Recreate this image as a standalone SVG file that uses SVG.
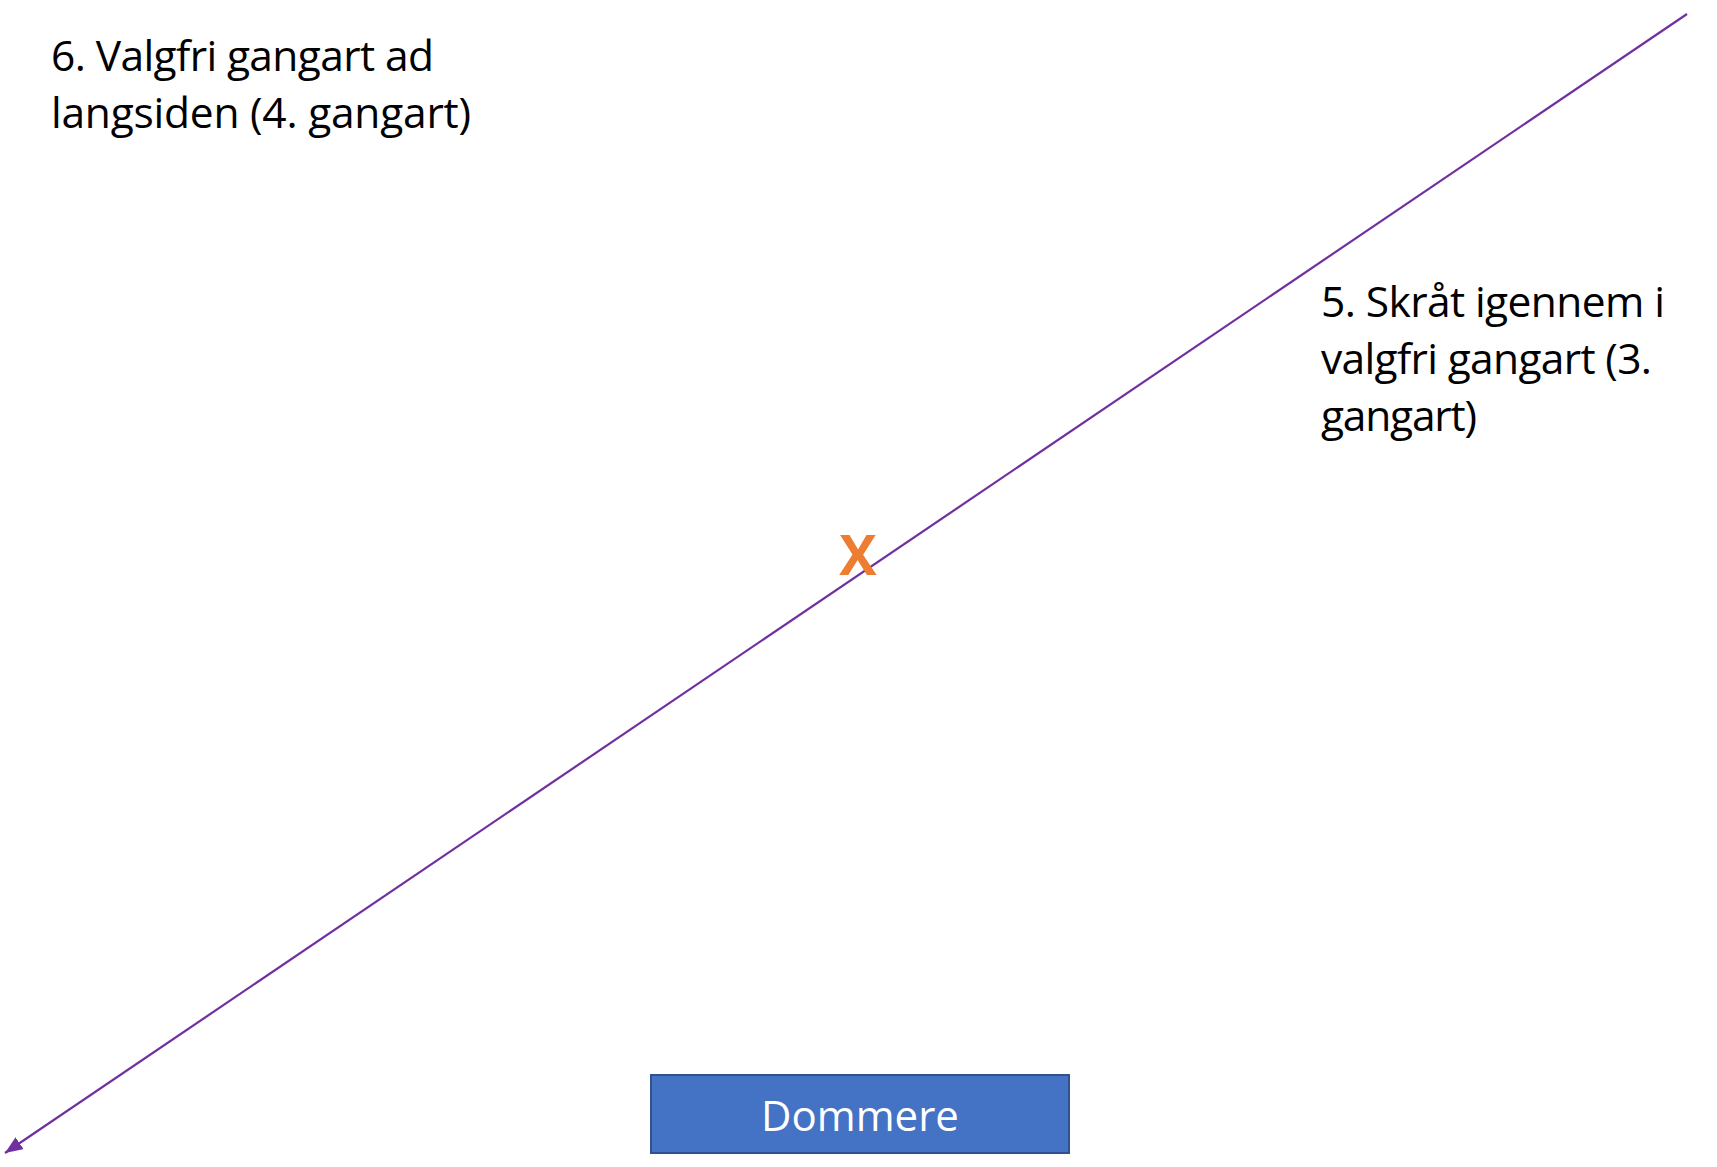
<svg xmlns="http://www.w3.org/2000/svg" width="1717" height="1167" viewBox="0 0 1717 1167">
  <style>
    .lbl { font-family: "Open Sans", "Liberation Sans", sans-serif; font-size: 42.5px; fill: #000000; }
    .box { fill: #4472C4; stroke: #2F528F; stroke-width: 2; }
    .boxtxt { font-family: "Open Sans", "Liberation Sans", sans-serif; font-size: 42px; fill: #FFFFFF; text-anchor: middle; }
    .mark { font-family: "Open Sans", "Liberation Sans", sans-serif; font-weight: bold; font-size: 56px; fill: #ED7D31; text-anchor: middle; }
    .conn { stroke: #7030A0; stroke-width: 2.2; fill: none; }
  </style>
  <defs>
    <marker id="arrow" viewBox="0 0 10 10" refX="10" refY="5" markerWidth="8" markerHeight="6.5" orient="auto" markerUnits="strokeWidth" preserveAspectRatio="none">
      <path d="M0,0 L10,5 L0,10 Z" fill="#7030A0"/>
    </marker>
  </defs>
  <rect width="1717" height="1167" fill="#FFFFFF"/>

  <g id="connectors">
    <line class="conn" x1="1687" y1="14" x2="5" y2="1153" marker-end="url(#arrow)"/>
  </g>

  <g id="label-6">
    <text class="lbl" x="51" y="71" textLength="383">6. Valgfri gangart ad</text>
    <text class="lbl" x="51" y="128" textLength="420">langsiden (4. gangart)</text>
  </g>

  <g id="label-5">
    <text class="lbl" x="1321" y="317" textLength="344">5. Skråt igennem i</text>
    <text class="lbl" x="1321" y="374" textLength="331">valgfri gangart (3.</text>
    <text class="lbl" x="1321" y="431" textLength="156">gangart)</text>
  </g>

  <g id="x-mark">
    <text class="mark" x="858" y="575">X</text>
  </g>

  <g id="dommere">
    <rect class="box" x="651" y="1075" width="418" height="78"/>
    <text class="boxtxt" x="860" y="1131">Dommere</text>
  </g>
</svg>
